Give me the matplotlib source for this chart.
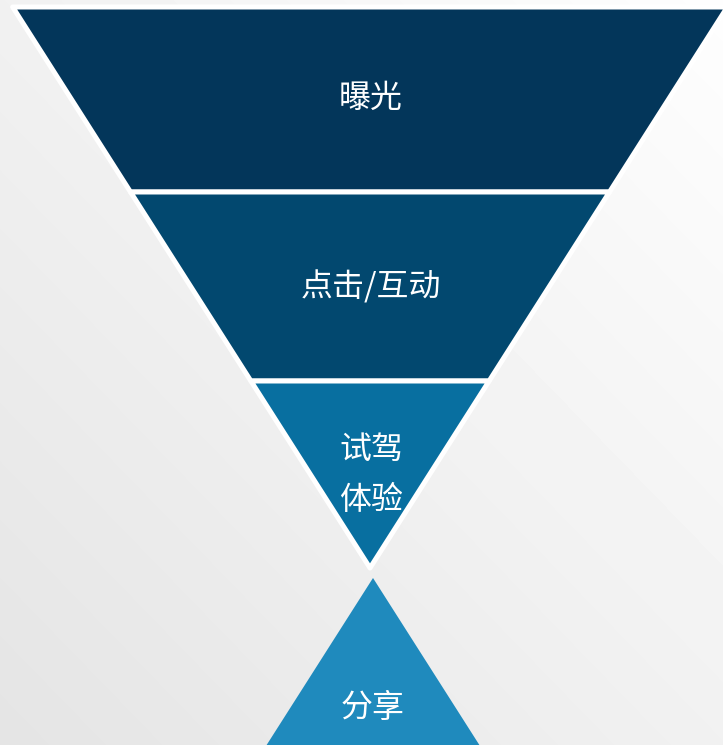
import matplotlib
matplotlib.use("Agg")
import matplotlib.pyplot as plt
from matplotlib.patches import Polygon
import numpy as np

plt.rcParams['font.family'] = ['Noto Sans CJK SC', 'DejaVu Sans']

# funnel stages (top to bottom)
labels = ["曝光", "点击/互动", "试驾\n体验"]
colors = ["#03365A", "#02486F", "#086FA0"]
band_top = [7, 192, 381]
band_bottom = [192, 381, 568]
label_y = [98, 287, 475]

# the separate upward triangle at the bottom
share_label = "分享"
share_color = "#1F8ABD"
share_apex = 578
share_label_y = 708

W, H = 723, 745
cx = 370
slope = 0.637  # half-width growth per pixel of height

fig = plt.figure(figsize=(W / 100, H / 100), dpi=100)
ax = fig.add_axes([0, 0, 1, 1])
ax.set_xlim(0, W)
ax.set_ylim(H, 0)
ax.axis('off')

# background gradient: light top-right, darker bottom-left
yy, xx = np.mgrid[0:H, 0:W]
t = (xx / W - yy / H + 1) / 2
bg = 0.895 + 0.10 * t
ax.imshow(bg, cmap='gray', vmin=0, vmax=1, extent=[0, W, H, 0],
          interpolation='bilinear', zorder=0)

apex = band_bottom[-1]
for lab, col, y0, y1, ly in zip(labels, colors, band_top, band_bottom, label_y):
    h0 = (apex - y0) * slope
    h1 = (apex - y1) * slope
    pts = [(cx - h0, y0), (cx + h0, y0), (cx + h1, y1), (cx - h1, y1)]
    ax.add_patch(Polygon(pts, closed=True, facecolor=col, edgecolor='white',
                         linewidth=3.6, joinstyle='round', zorder=2))
    ax.text(cx + 1, ly, lab, color='white', fontsize=23, fontweight='light',
            ha='center', va='center', linespacing=1.75, zorder=3)

hb = (H + 10 - share_apex) * slope
ax.add_patch(Polygon([(cx + 3, share_apex), (cx + 3 + hb, H + 10), (cx + 3 - hb, H + 10)],
                     closed=True, facecolor=share_color, edgecolor='none', zorder=2))
ax.text(cx + 3, share_label_y, share_label, color='white', fontsize=23,
        fontweight='light', ha='center', va='center', zorder=3)

fig.savefig("out.png", dpi=100)
